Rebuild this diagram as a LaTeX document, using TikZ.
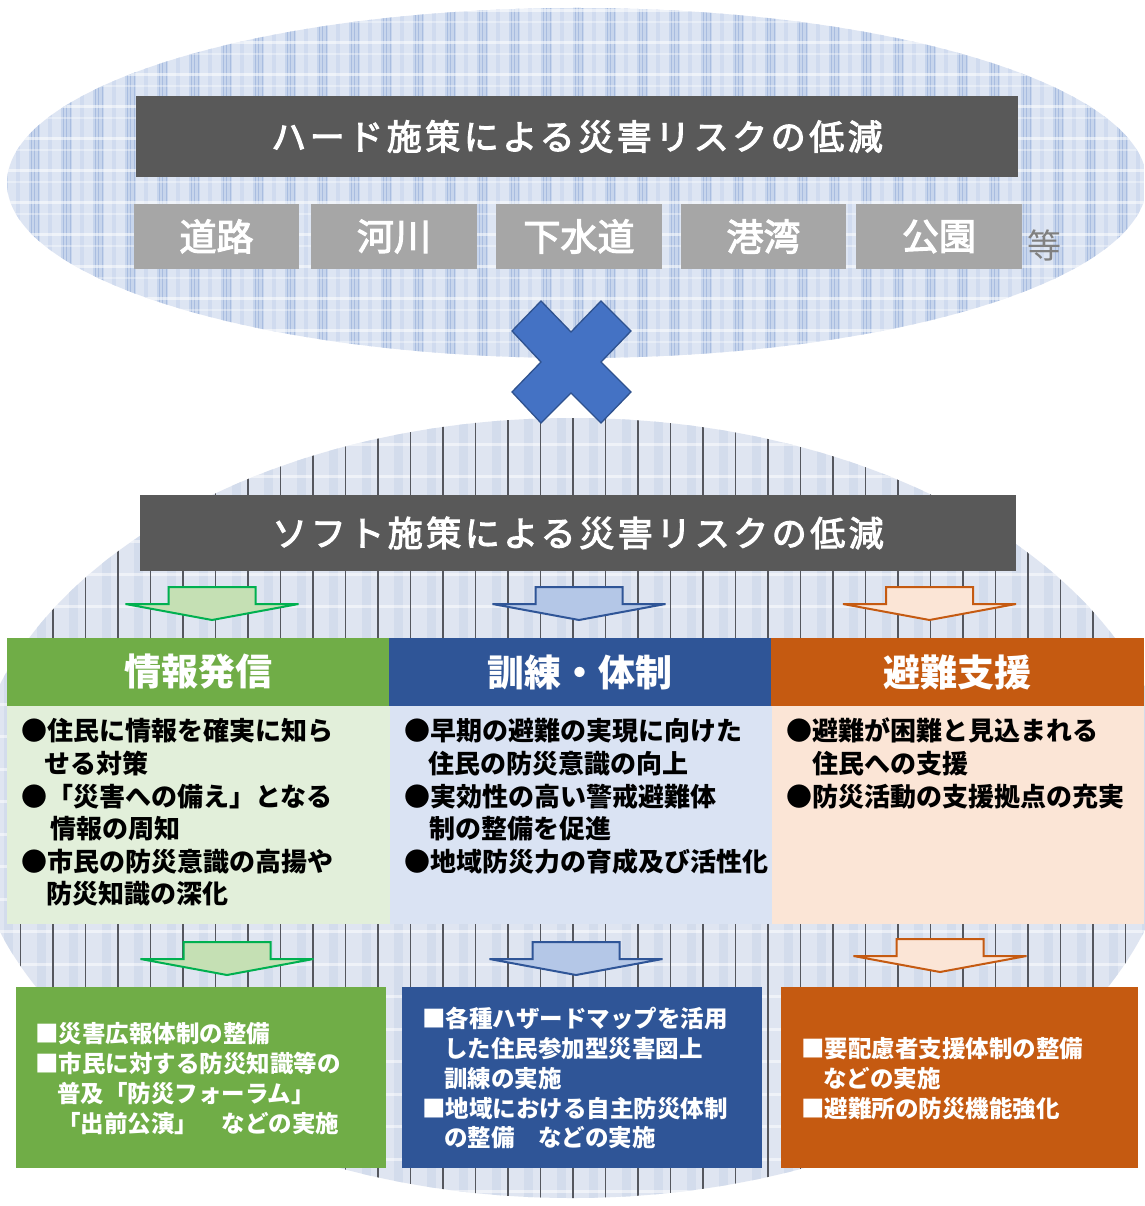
\documentclass[tikz,border=0pt]{standalone}
\usepackage{fontspec}
\setmainfont{Noto Sans CJK JP}
\newfontfamily\jp{Noto Sans CJK JP}
\newfontfamily\jpm[FakeBold=3]{Noto Sans CJK JP}
\newfontfamily\jpls[LetterSpace=10,FakeBold=3]{Noto Sans CJK JP}
\definecolor{titlegray}{HTML}{595959}
\definecolor{boxgray}{HTML}{A6A6A6}
\definecolor{etcgray}{HTML}{808080}
\definecolor{xblue}{HTML}{4472C4}
\definecolor{xblueline}{HTML}{2F528F}
\definecolor{gA}{HTML}{70AD47}
\definecolor{gL}{HTML}{E2EFDA}
\definecolor{gAF}{HTML}{C5E0B4}
\definecolor{gAL}{HTML}{00B050}
\definecolor{bA}{HTML}{2F5597}
\definecolor{bL}{HTML}{DAE3F3}
\definecolor{bAF}{HTML}{B4C7E7}
\definecolor{bAL}{HTML}{2F5597}
\definecolor{oA}{HTML}{C55A11}
\definecolor{oL}{HTML}{FBE5D6}
\definecolor{oAF}{HTML}{FBE5D6}
\definecolor{oAL}{HTML}{C55A11}
\definecolor{topbase}{HTML}{DDE5F3}
\definecolor{tband}{HTML}{C7D5EC}
\definecolor{tline}{HTML}{A9BDE0}
\definecolor{bbase}{HTML}{DFE5F1}
\definecolor{bband}{HTML}{D3DCEC}
\definecolor{darkline}{HTML}{55575E}
\newcommand\blockarrow[3]{%
  \draw[#1] ({#2-43.5},{#3}) -- ({#2+43.5},{#3}) -- ({#2+43.5},{#3+17})
    -- ({#2+86.5},{#3+17}) -- ({#2},{#3+33}) -- ({#2-86.5},{#3+17})
    -- ({#2-43.5},{#3+17}) -- cycle;}
\newcommand\textlines[4]{%
  \foreach \px/\py/\tx [count=\i] in {#4} {%
    \node[#2, anchor=base west] (#1\i) at (\px,{\py+#3}) {\tx};}}
\begin{document}
\begin{tikzpicture}[x=1pt,y=-1pt,
  every node/.style={inner sep=0pt, outer sep=0pt},
  titlebox/.style={rectangle, anchor=north west, fill=titlegray, text=white,
    font=\jpls\fontsize{35}{35}\selectfont},
  graybox/.style={rectangle, anchor=north west, fill=boxgray, text=white,
    minimum width=165pt, minimum height=65pt, font=\jpm\fontsize{37}{37}\selectfont},
  headbox/.style={rectangle, anchor=north west, text=white, minimum height=68pt,
    font=\jp\bfseries\fontsize{37}{37}\selectfont},
  contbox/.style={rectangle, anchor=north west, minimum height=218pt},
  lowbox/.style={rectangle, anchor=north west, minimum height=181pt},
  conttext/.style={text=black, font=\jp\bfseries\fontsize{26}{30}\selectfont},
  lowtext/.style={text=white, font=\jp\bfseries\fontsize{23.5}{28}\selectfont},
  garrow/.style={fill=gAF, draw=gAL, line width=2pt, line join=miter},
  barrow/.style={fill=bAF, draw=bAL, line width=2pt, line join=miter},
  oarrow/.style={fill=oAF, draw=oAL, line width=2pt, line join=miter},
]
\useasboundingbox (0,0) rectangle (1144,1206);
\fill[white] (0,0) rectangle (1144,1206);

% top ellipse with plaid pattern
\begin{scope}
  \clip (577,183) ellipse [x radius=570pt, y radius=175pt];
  \fill[topbase] (0,0) rectangle (1144,420);
  \foreach \k in {0,...,36}{
    \fill[tband] ({\k*32-3},0) rectangle ({\k*32+8},420);
    \fill[tband!60!topbase] ({\k*32+16},0) rectangle ({\k*32+20},420);
    \draw[tline, line width=0.7pt] ({\k*32-1},0) -- ({\k*32-1},420);
    \draw[tline, line width=0.7pt] ({\k*32+2.5},0) -- ({\k*32+2.5},420);
    \draw[tline, line width=0.7pt] ({\k*32+6},0) -- ({\k*32+6},420);
  }
  \foreach \k in {0,...,13}{
    \fill[white, opacity=.55] (0,{\k*32+9}) rectangle (1144,{\k*32+12});
    \fill[white, opacity=.35] (0,{\k*32+21}) rectangle (1144,{\k*32+23});
  }
\end{scope}

% bottom ellipse with plaid and dark vertical lines
\begin{scope}
  \clip (572,808) ellipse [x radius=603pt, y radius=390pt];
  \fill[bbase] (0,400) rectangle (1144,1206);
  \foreach \k in {0,...,35}{
    \fill[bband] ({\k*32.5+4},400) rectangle ({\k*32.5+13},1206);
  }
  \foreach \k in {0,...,26}{
    \fill[white, opacity=.5] (0,{\k*32.5+410}) rectangle (1144,{\k*32.5+413});
  }
  \foreach \k in {0,...,35}{
    \draw[darkline, line width=1.3pt] ({\k*32.5+20.5},400) -- ({\k*32.5+20.5},1206);
  }
\end{scope}

% hard measures
\node[titlebox, minimum width=882pt, minimum height=81pt] (hard) at (136,96)
  {ハード施策による災害リスクの低減};
\node[graybox] (road) at (134,204) {道路};
\node[graybox, minimum width=166pt] (river) at (311,204) {河川};
\node[graybox, minimum width=166pt] (sewer) at (496,204) {下水道};
\node[graybox] (port) at (681,204) {港湾};
\node[graybox, minimum width=166pt] (park) at (856,204) {公園};
\node[text=etcgray, font=\jp\fontsize{34}{34}\selectfont] (etc) at (1044,245) {等};

% cross
\draw[fill=xblue, draw=xblueline, line width=1.3pt, line join=miter]
  (541,301) -- (571,332) -- (601,301) -- (631,331) -- (601,362) -- (631,392)
  -- (601,423) -- (571,393) -- (541,423) -- (512,392) -- (541,362) -- (512,331) -- cycle;

% soft measures
\node[titlebox, minimum width=876pt, minimum height=76pt] (soft) at (140,495)
  {ソフト施策による災害リスクの低減};

% upper arrows
\blockarrow{garrow}{212}{587}
\blockarrow{barrow}{579}{587}
\blockarrow{oarrow}{929.5}{587}

% headers
\node[headbox, fill=gA, minimum width=382pt] (hinfo) at (7,638) {情報発信};
\node[headbox, fill=bA, minimum width=382pt] (htrain) at (389,638) {訓練・体制};
\node[headbox, fill=oA, minimum width=373pt] (hevac) at (771,638) {避難支援};

% content boxes
\node[contbox, fill=gL, minimum width=383pt] (cinfo) at (7,706) {};
\node[contbox, fill=bL, minimum width=382pt] (ctrain) at (390,706) {};
\node[contbox, fill=oL, minimum width=372pt] (cevac) at (772,706) {};

\textlines{ci}{conttext}{10}{21/730/●住民に情報を確実に知ら, 44/763/せる対策,
  21/796/●「災害への備え」となる, 50/828/情報の周知,
  21/861/●市民の防災意識の高揚や, 46/893/防災知識の深化}
\textlines{ct}{conttext}{10}{404/730/●早期の避難の実現に向けた, 428/763/住民の防災意識の向上,
  404/796/●実効性の高い警戒避難体, 429/828/制の整備を促進,
  404/861/●地域防災力の育成及び活性化}
\textlines{ce}{conttext}{10}{786/730/●避難が困難と見込まれる, 812/763/住民への支援,
  786/796/●防災活動の支援拠点の充実}

% lower arrows
\blockarrow{garrow}{227}{942}
\blockarrow{barrow}{576}{942}
\blockarrow{oarrow}{940}{939}

% lower boxes
\node[lowbox, fill=gA, minimum width=370pt] (linfo) at (16,987) {};
\node[lowbox, fill=bA, minimum width=360pt] (ltrain) at (402,987) {};
\node[lowbox, fill=oA, minimum width=357pt] (levac) at (781,987) {};

\textlines{li}{lowtext}{9}{35/1033/■災害広報体制の整備, 35/1063/■市民に対する防災知識等の,
  57/1093/普及「防災フォーラム」, 57/1123/「出前公演」　などの実施}
\textlines{lt}{lowtext}{9}{422/1018/■各種ハザードマップを活用, 444/1048/した住民参加型災害図上,
  444/1078/訓練の実施, 422/1108/■地域における自主防災体制, 444/1137/の整備　などの実施}
\textlines{le}{lowtext}{9}{801/1048/■要配慮者支援体制の整備, 823/1078/などの実施,
  801/1108/■避難所の防災機能強化}
\end{tikzpicture}
\end{document}
